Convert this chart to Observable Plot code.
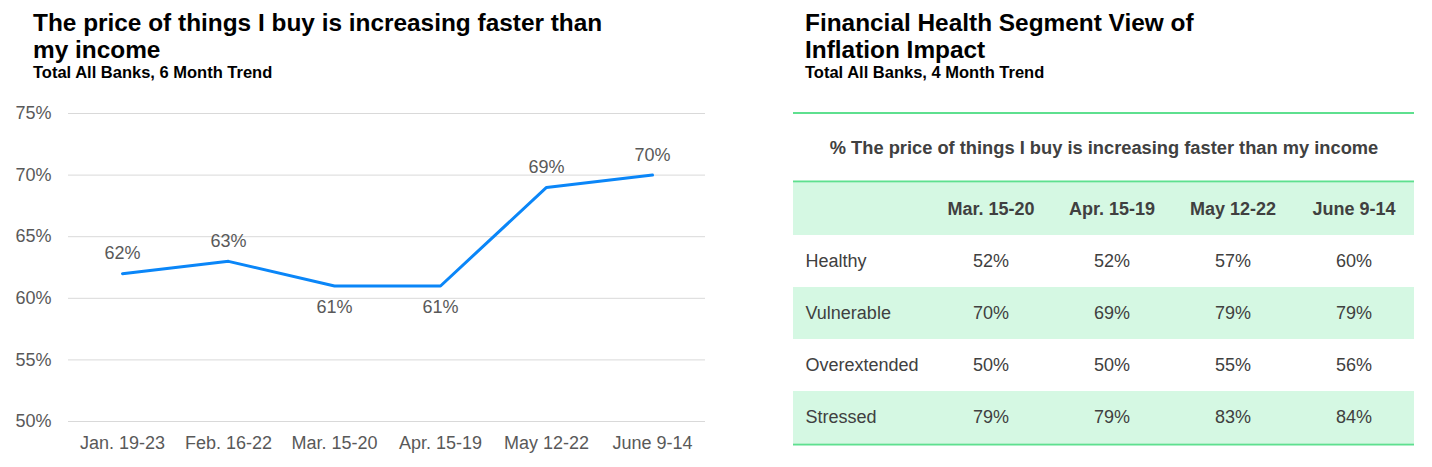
<!DOCTYPE html>
<html>
<head>
<meta charset="utf-8">
<script src="https://cdn.jsdelivr.net/npm/d3@7"></script>
<script src="https://cdn.jsdelivr.net/npm/@observablehq/plot@0.6"></script>
<style>
  html, body { margin: 0; padding: 0; background: #fff; }
  body { width: 1432px; height: 467px; position: relative; overflow: hidden; font-family: "Liberation Sans", Arial, sans-serif; }
  .title { position: absolute; font-weight: bold; font-size: 24.4px; line-height: 27px; color: #000; white-space: nowrap; }
  .sub { position: absolute; font-weight: bold; font-size: 16.5px; line-height: 18px; color: #000; white-space: nowrap; }
  #left { position: absolute; left: 0; top: 95px; }
  #right { position: absolute; left: 793px; top: 112px; border-top: 2px solid #5ee08f; }
  svg { display: block; }
</style>
</head>
<body>
<div class="title" style="left:33px; top:9px;">The price of things I buy is increasing faster than<br>my income</div>
<div class="sub" style="left:33px; top:63px;">Total All Banks, 6 Month Trend</div>
<div class="title" style="left:805px; top:9px;">Financial Health Segment View of<br>Inflation Impact</div>
<div class="sub" style="left:805px; top:63px;">Total All Banks, 4 Month Trend</div>
<div id="left"></div>
<div id="right"></div>
<script>
// ---- Left chart data ----
const periods = ["Jan. 19-23", "Feb. 16-22", "Mar. 15-20", "Apr. 15-19", "May 12-22", "June 9-14"];
const trendValues = [62, 63, 61, 61, 69, 70];
const yTicks = [50, 55, 60, 65, 70, 75];

// ---- Right table data ----
const tableCaption = "% The price of things I buy is increasing faster than my income";
const segColumns = ["Mar. 15-20", "Apr. 15-19", "May 12-22", "June 9-14"];
const segments = ["Healthy", "Vulnerable", "Overextended", "Stressed"];
const healthy = [52, 52, 57, 60];
const vulnerable = [70, 69, 79, 79];
const overextended = [50, 50, 55, 56];
const stressed = [79, 79, 83, 84];

const FONT = '"Liberation Sans", Arial, sans-serif';

// ---- Left line chart ----
const trend = periods.map((p, i) => ({period: p, value: trendValues[i]}));
const minVal = d3.min(trendValues);
const above = trend.filter(d => d.value > minVal);
const below = trend.filter(d => d.value === minVal);

const left = Plot.plot({
  width: 720,
  height: 372,
  marginTop: 18,
  marginBottom: 46,
  marginLeft: 68,
  marginRight: 15,
  style: {fontFamily: FONT, fontSize: "18px", color: "#595959", background: "transparent"},
  x: {type: "point", domain: periods, padding: 0.5, label: null, tickSize: 0, tickPadding: 15},
  y: {domain: [50, 75], ticks: yTicks, tickFormat: d => d + "%", label: null, tickSize: 0, tickPadding: 17},
  marks: [
    Plot.ruleY(yTicks, {stroke: "#d9d9d9", strokeWidth: 1}),
    Plot.line(trend, {x: "period", y: "value", stroke: "#0a86f8", strokeWidth: 3}),
    Plot.text(above, {x: "period", y: "value", text: d => d.value + "%", dy: -20, fill: "#595959", fontSize: 18}),
    Plot.text(below, {x: "period", y: "value", text: d => d.value + "%", dy: 21, fill: "#595959", fontSize: 18})
  ]
});
document.getElementById("left").appendChild(left);

// ---- Right table ----
const segValues = [healthy, vulnerable, overextended, stressed];
const rowKeys = ["header", ...segments];
const rows = rowKeys.map((k, i) => ({key: k, shaded: i % 2 === 0}));
const cells = [];
segments.forEach((s, r) => segColumns.forEach((c, j) => cells.push({segment: s, col: c, value: segValues[r][j]})));

const TW = 621;
const right = Plot.plot({
  width: TW,
  height: 332,
  marginTop: 67,
  marginBottom: 2,
  marginLeft: 0,
  marginRight: 0,
  style: {fontFamily: FONT, fontSize: "18px", color: "#404040", background: "transparent"},
  x: {type: "band", domain: segColumns, range: [137, TW], padding: 0, axis: null},
  y: {type: "band", domain: rowKeys, padding: 0, axis: null},
  marks: [
    Plot.cell(rows.filter(d => d.shaded), {y: "key", fill: "#d5f8e3"}),
    Plot.frame({anchor: "top", stroke: "#5ee08f", strokeWidth: 2}),
    Plot.frame({anchor: "bottom", stroke: "#5ee08f", strokeWidth: 2}),
    Plot.text([tableCaption], {frameAnchor: "top", lineAnchor: "middle", text: d => d, dy: -33, fontWeight: "bold", fontSize: 18.3, fill: "#404040"}),
    Plot.text(segColumns, {x: d => d, y: () => "header", text: d => d, fontWeight: "bold", fill: "#404040"}),
    Plot.text(segments, {y: d => d, text: d => d, frameAnchor: "left", dx: 12, textAnchor: "start", fill: "#404040"}),
    Plot.text(cells, {x: "col", y: "segment", text: d => d.value + "%", fill: "#404040"})
  ]
});
document.getElementById("right").appendChild(right);
</script>
</body>
</html>
